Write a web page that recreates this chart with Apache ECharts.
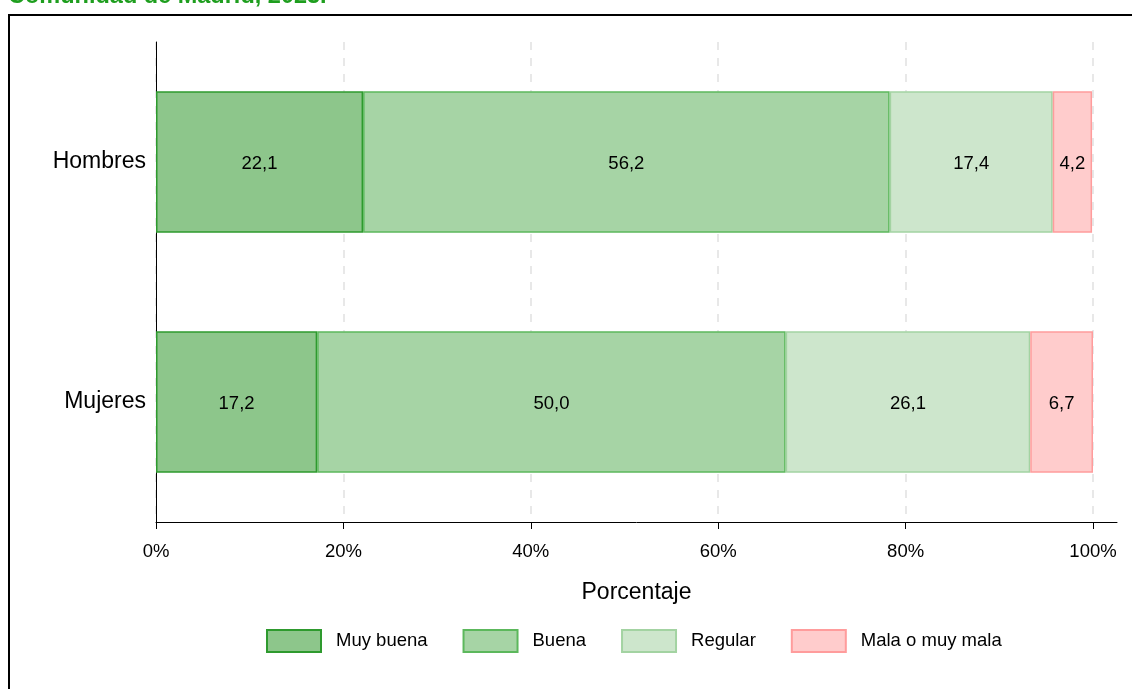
<!DOCTYPE html>
<html>
<head>
<meta charset="utf-8">
<script src="https://cdn.jsdelivr.net/npm/echarts@6/dist/echarts.min.js"></script>
<style>
html,body{margin:0;padding:0;background:#fff;}
#chart{width:1132px;height:689px;}
</style>
</head>
<body>
<div id="chart"></div>
<script>
const categories = ['Hombres', 'Mujeres'];
const seriesNames = ['Muy buena', 'Buena', 'Regular', 'Mala o muy mala'];
const muyBuena = [22.1, 17.2];
const buena = [56.2, 50.0];
const regular = [17.4, 26.1];
const mala = [4.2, 6.7];
const titleText = 'Comunidad de Madrid, 2023.';
const xAxisName = 'Porcentaje';

const fills = ['#8dc68b', '#a6d4a5', '#cde6cc', '#ffcccc'];
const borders = ['#2e9a2e', '#5cb85c', '#a3d3a2', '#ff9c9c'];
const values = [muyBuena, buena, regular, mala];
const FONT = '"Liberation Sans", Arial, sans-serif';

const chart = echarts.init(document.getElementById('chart'), null, {renderer: 'canvas'});

const series = seriesNames.map((name, i) => ({
  name: name,
  type: 'bar',
  stack: 'total',
  xAxisIndex: 1,
  yAxisIndex: 1,
  barWidth: '59%',
  data: values[i],
  itemStyle: {color: fills[i], borderColor: borders[i], borderWidth: 1.5},
  label: {
    show: true,
    position: 'inside',
    color: '#000',
    fontSize: 18.5,
    fontFamily: FONT,
    offset: [0, 2],
    formatter: p => p.value.toFixed(1).replace('.', ',')
  },
  emphasis: {disabled: true}
}));

chart.setOption({
  animation: false,
  backgroundColor: '#fff',
  title: {
    text: titleText,
    left: 3,
    top: -20,
    textStyle: {color: '#1e9e1e', fontSize: 23.5, fontWeight: 'bold', fontFamily: FONT}
  },
  graphic: [{
    type: 'rect',
    shape: {x: 9, y: 15, width: 1300, height: 1000},
    style: {fill: null, stroke: '#000', lineWidth: 2},
    silent: true
  }],
  legend: {
    top: 624,
    left: 261,
    icon: 'rect',
    itemWidth: 54,
    itemHeight: 22,
    itemGap: 35,
    textStyle: {fontSize: 18.5, fontFamily: FONT, color: '#000', padding: [0, 0, 0, 10]},
    data: seriesNames
  },
  grid: [
    {left: 156, width: 961, top: 42, height: 480, containLabel: false},
    {left: 156, width: 937, top: 42, height: 480, containLabel: false}
  ],
  xAxis: [
    {
      gridIndex: 0, type: 'value', min: 0, max: 102.56,
      axisLine: {show: true, lineStyle: {color: '#000', width: 1}},
      axisTick: {show: false}, axisLabel: {show: false}, splitLine: {show: false},
      name: xAxisName, nameLocation: 'middle', nameGap: 59,
      nameTextStyle: {fontSize: 23, color: '#000', fontFamily: FONT}
    },
    {
      gridIndex: 1, type: 'value', min: 0, max: 100, interval: 20,
      axisLine: {show: false},
      axisTick: {show: true, length: 7, lineStyle: {color: '#000'}},
      axisLabel: {formatter: '{value}%', fontSize: 18.5, color: '#000', fontFamily: FONT, margin: 20},
      splitLine: {show: true, lineStyle: {color: '#e8e8e8', type: [8, 8], width: 2}}
    }
  ],
  yAxis: [
    {gridIndex: 0, type: 'category', data: categories, inverse: true, show: false},
    {
      gridIndex: 1, type: 'category', data: categories, inverse: true,
      axisLine: {show: true, lineStyle: {color: '#000', width: 1}},
      axisTick: {show: false},
      axisLabel: {fontSize: 23, color: '#000', fontFamily: FONT, margin: 10, padding: [6, 0, 0, 0]}
    }
  ],
  series: series
});
</script>
</body>
</html>
